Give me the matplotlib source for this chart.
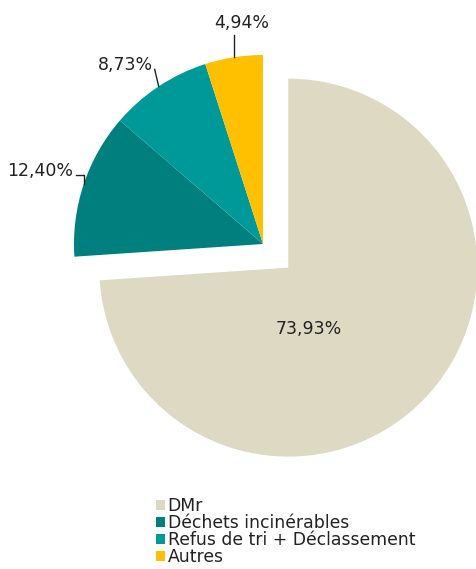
import numpy as np
import matplotlib
matplotlib.use("Agg")
import matplotlib.pyplot as plt

plt.rcParams['font.family'] = ['DejaVu Sans']

# donnees
categories = ["DMr", "Déchets incinérables", "Refus de tri + Déclassement", "Autres"]
valeurs = [73.93, 12.40, 8.73, 4.94]
couleurs = ["#DDD9C3", "#007F7F", "#009999", "#FFC000"]
etiquettes = ["73,93%", "12,40%", "8,73%", "4,94%"]

W, H = 476, 569
fig = plt.figure(figsize=(W / 100, H / 100), dpi=100)
ax = fig.add_axes([0, 0, 1, 1])

cx, cy = 263, H - 244
R = 189
# explode est en unites de donnees (pas relatif au rayon)
wedges, _ = ax.pie(valeurs, colors=couleurs, startangle=90, counterclock=False,
                   explode=[0.183 * R, 0, 0, 0], center=(cx, cy), radius=R,
                   wedgeprops=dict(linewidth=0))
# pie() impose ses propres limites, on les remet ensuite
ax.set_xlim(0, W)
ax.set_ylim(0, H)
ax.set_aspect('equal')
ax.axis('off')

# angles au milieu de chaque part
angles = []
debut = 90.0
for v in valeurs:
    ang = v / sum(valeurs) * 360
    angles.append(debut - ang / 2)
    debut -= ang

fs = 12.5
# etiquette DMr a l'interieur
ax.text(309, H - 329, etiquettes[0], ha='center', va='center', fontsize=fs, color='#222222')

# lignes de rappel
def bord(i):
    a = np.deg2rad(angles[i])
    return cx + R * np.cos(a), cy + R * np.sin(a)

# Autres
x0, y0 = bord(3)
ax.plot([x0, x0], [y0, y0 + 22], color='#222222', lw=1)
ax.text(x0 + 8, y0 + 25, etiquettes[3], ha='center', va='bottom', fontsize=fs, color='#222222')
# Refus
x0, y0 = bord(2)
ax.plot([x0, x0 - 4], [y0, y0 + 17], color='#222222', lw=1)
ax.text(x0 - 6, y0 + 21, etiquettes[2], ha='right', va='center', fontsize=fs, color='#222222')
# Dechets
x0, y0 = bord(1)
ax.plot([x0, x0, x0 - 8], [y0, y0 + 9, y0 + 9], color='#222222', lw=1)
ax.text(x0 - 11, y0 + 13, etiquettes[1], ha='right', va='center', fontsize=fs, color='#222222')

leg = ax.legend(wedges, categories, loc='upper left', bbox_to_anchor=(156 / W, 1 - 497 / H),
                frameon=False, fontsize=12.4, handlelength=0.53, handleheight=0.53,
                handletextpad=0.15, labelspacing=-0.05, borderpad=0, borderaxespad=0)
for t in leg.get_texts():
    t.set_color('#222222')

fig.savefig("out.png", dpi=100)
